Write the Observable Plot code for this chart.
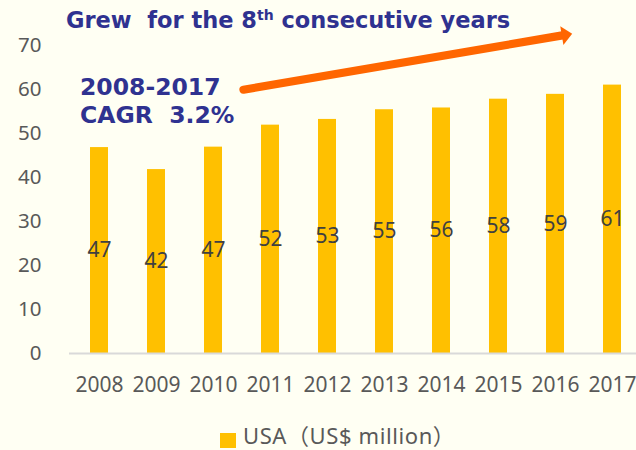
<!DOCTYPE html>
<html><head><meta charset="utf-8">
<script src="https://cdn.jsdelivr.net/npm/d3@7"></script>
<script src="https://cdn.jsdelivr.net/npm/@observablehq/plot@0.6"></script>
<style>
html,body{margin:0;padding:0;background:#FFFFF3;overflow:hidden;}
#wrap{position:relative;width:636px;height:450px;overflow:hidden;}
#wrap svg{position:absolute;left:0;top:0;}
.note{position:absolute;font-family:"DejaVu Sans",Verdana,sans-serif;font-weight:bold;color:#2F3290;white-space:pre;}
#title{left:66px;top:9px;font-size:22.5px;line-height:22.5px;}
#title sup{font-size:14px;vertical-align:8px;line-height:0;}
#cagr{left:80px;top:73px;font-size:23.5px;line-height:28px;}
#legend{position:absolute;left:220px;top:424px;height:22px;font-family:"Noto Sans","Noto Sans CJK JP",sans-serif;font-size:22px;line-height:22px;color:#595959;white-space:pre;}
#legend .sw{position:absolute;left:0;top:9px;width:16px;height:15px;background:#FFC000;}
#legend .lt{position:absolute;left:23px;top:0;letter-spacing:0.6px;}
</style></head>
<body><div id="wrap"></div>
<script>
// ---- data ----
const years = ["2008","2009","2010","2011","2012","2013","2014","2015","2016","2017"];
const values = [46.8, 41.8, 46.9, 51.9, 53.2, 55.4, 55.8, 57.8, 58.9, 61.0];
const yTicks = [0, 10, 20, 30, 40, 50, 60, 70];
const seriesName = "USA（US$ million）";
const titleMain = "Grew  for the 8";
const titleSup = "th";
const titleRest = " consecutive years";
const noteLines = ["2008-2017", "CAGR  3.2%"];
// arrow annotation anchors (data space)
const arrowFrom = {year: "2010", value: 58.8};
const arrowTo = {year: "2017", value: 74.23};
const arrowTip = {year: "2016", value: 72.45};

const data = years.map((year, i) => ({year, value: values[i]}));
const wrap = document.getElementById("wrap");

// wide, short filled arrowhead (points "up" before rotation)
const headSymbol = {
  draw(context, size) {
    const r = Math.sqrt(size / Math.PI);
    context.moveTo(0, -r);
    context.lineTo(1.81 * r, r);
    context.lineTo(-1.81 * r, r);
    context.closePath();
  }
};

const chart = Plot.plot({
  width: 636, height: 400,
  marginTop: 45, marginBottom: 47, marginLeft: 69, marginRight: -6,
  style: {background: "transparent", overflow: "visible", fontFamily: "'Noto Sans','Open Sans',sans-serif", fontSize: "21px", color: "#595959"},
  x: {domain: years, paddingInner: 0.686, paddingOuter: 0.343, align: 0.5, label: null},
  y: {domain: [0, 70], label: null},
  marks: [
    Plot.barY(data, {x: "year", y: "value", fill: "#FFC000"}),
    Plot.ruleY([0], {stroke: "#D9D9D9", strokeWidth: 2}),
    Plot.axisY(yTicks, {tickSize: 0, tickPadding: 28, fill: "#595959", fontSize: 20.5, label: null}),
    Plot.axisX({tickSize: 0, tickPadding: 24, fill: "#595959", fontSize: 21, label: null}),
    Plot.text(data, {x: "year", y: d => d.value / 2, text: d => d3.format(".0f")(d.value), fill: "#404040", fontSize: 21}),
    Plot.arrow([{a: arrowFrom, b: arrowTo}], {
      x1: d => d.a.year, y1: d => d.a.value, x2: d => d.b.year, y2: d => d.b.value,
      stroke: "#FF6600", strokeWidth: 8.2, headLength: 0, insetStart: 30.4, insetEnd: 50.8
    }),
    Plot.dot([arrowTip], {x: "year", y: "value", dx: 11.5, symbol: headSymbol, fill: "#FF6600", r: 5.25, rotate: 80.4})
  ]
});
wrap.appendChild(chart);

const title = document.createElement("div");
title.id = "title"; title.className = "note";
title.append(titleMain);
const sup = document.createElement("sup"); sup.textContent = titleSup; title.append(sup);
title.append(titleRest);
wrap.appendChild(title);

const note = document.createElement("div");
note.id = "cagr"; note.className = "note";
note.textContent = noteLines.join("\n");
wrap.appendChild(note);

const legend = document.createElement("div");
legend.id = "legend";
const sw = document.createElement("span"); sw.className = "sw";
legend.appendChild(sw);
const lt = document.createElement("span"); lt.className = "lt"; lt.textContent = seriesName;
legend.appendChild(lt);
wrap.appendChild(legend);
</script>
</body></html>
